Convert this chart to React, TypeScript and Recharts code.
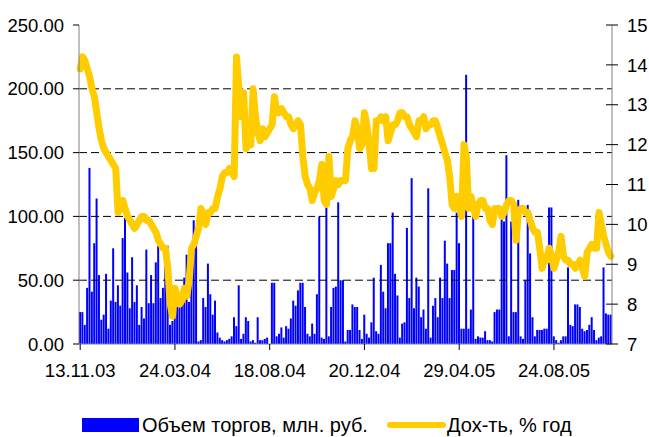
import React from "react";
import {
    ComposedChart,
    Bar,
    Line,
    XAxis,
    YAxis,
    ReferenceLine
} from "recharts";

// tick labels shown every 40 trading days
const dateLabels = ["13.11.03", "24.03.04", "18.08.04", "20.12.04", "29.04.05", "24.08.05"];

// trading volume, mln rub
const volumes = [
    25, 25, 15, 44, 138, 41, 79, 114, 54, 19,
    23, 55, 12, 34, 75, 33, 46, 30, 83, 99,
    56, 28, 68, 33, 46, 15, 29, 20, 74, 32,
    54, 32, 64, 77, 36, 44, 77, 77, 15, 18,
    33, 33, 30, 40, 52, 70, 33, 54, 97, 80,
    2, 3, 36, 29, 63, 39, 23, 34, 9, 5,
    3, 2, 3, 4, 6, 21, 14, 46, 4, 8,
    21, 18, 2, 3, 1, 21, 3, 3, 4, 5,
    0, 48, 48, 6, 8, 13, 5, 14, 12, 20,
    34, 30, 42, 48, 48, 29, 8, 6, 16, 8,
    39, 100, 5, 4, 109, 6, 29, 44, 45, 111,
    50, 50, 2, 11, 11, 31, 29, 29, 11, 4,
    23, 8, 5, 17, 52, 10, 8, 62, 41, 28,
    79, 79, 103, 55, 38, 5, 16, 17, 91, 36,
    130, 28, 52, 45, 21, 27, 12, 122, 5, 30,
    36, 21, 52, 36, 81, 63, 36, 58, 58, 103,
    79, 12, 12, 211, 12, 27, 101, 4, 6, 5,
    5, 10, 3, 3, 2, 25, 27, 27, 99, 96,
    148, 6, 96, 25, 25, 113, 6, 4, 50, 109,
    71, 21, 6, 11, 11, 11, 12, 12, 107, 107,
    6, 3, 1, 3, 6, 6, 60, 15, 14, 31,
    31, 29, 12, 10, 11, 15, 21, 11, 3, 5,
    6, 60, 24, 23, 23
];

// yield, % per year
const yields = [
    13.9, 14.2, 14.1, 13.9, 13.7, 13.4, 13.2, 12.8, 12.4, 12.1,
    11.9, 11.8, 11.7, 11.6, 11.5, 11.4, 10.3, 10.4, 10.6, 10.4,
    10.2, 10.1, 10.0, 9.9, 10.0, 10.1, 10.2, 10.2, 10.1, 10.1,
    10.0, 9.9, 9.8, 9.6, 9.5, 9.4, 9.4, 8.9, 8.0, 7.7,
    8.4, 8.2, 8.0, 8.1, 8.4, 8.2, 8.6, 9.4, 9.5, 9.7,
    9.9, 10.4, 10.2, 10.0, 10.3, 10.3, 10.4, 10.4, 10.7, 10.9,
    11.2, 11.3, 11.3, 11.4, 11.3, 11.2, 14.2, 13.4, 12.7, 13.3,
    11.9, 12.0, 12.0, 13.4, 12.7, 12.3, 12.1, 12.4, 12.2, 12.3,
    12.4, 12.5, 13.2, 12.8, 12.8, 12.9, 12.8, 12.7, 12.7, 12.5,
    12.4, 12.5, 12.6, 12.5, 11.7, 11.2, 11.0, 10.9, 10.6, 10.8,
    10.9, 11.1, 11.5, 10.6, 10.5, 11.7, 10.7, 10.9, 11.1, 11.0,
    11.1, 11.1, 11.1, 11.9, 12.1, 12.2, 12.6, 12.4, 11.9, 12.0,
    12.8, 12.5, 12.0, 11.4, 11.4, 12.6, 12.6, 12.7, 12.6, 12.7,
    12.1, 12.3, 12.5, 12.5, 12.6, 12.8, 12.8, 12.7, 12.7, 12.5,
    12.4, 12.3, 12.2, 12.6, 12.6, 12.7, 12.4, 12.5, 12.5, 12.6,
    12.6, 12.4, 12.2, 12.0, 11.8, 11.6, 11.2, 10.5, 10.4, 10.7,
    10.5, 10.2, 12.0, 11.7, 10.4, 10.7, 10.4, 10.2, 10.5, 10.6,
    10.6, 10.4, 10.4, 10.1, 10.0, 10.4, 10.4, 10.4, 10.2, 10.3,
    10.5, 10.6, 10.6, 10.5, 9.6, 10.3, 10.4, 10.4, 10.3, 10.3,
    10.1, 9.9, 9.8, 9.8, 9.4, 8.9, 9.2, 9.1, 9.4, 9.2,
    8.9, 9.1, 9.3, 9.7, 9.2, 9.1, 9.1, 9.0, 9.0, 8.9,
    9.0, 9.1, 8.9, 8.7, 9.3, 9.4, 9.5, 9.4, 9.4, 10.3,
    10.0, 9.7, 9.5, 9.3, 9.2
];

const leftTicks = [0, 50, 100, 150, 200, 250];
const rightTicks = [7, 8, 9, 10, 11, 12, 13, 14, 15];
const gridValues = [50, 100, 150, 200];
const labelStep = 40;

const data = volumes.map((v, i) => ({ i, volume: v, yieldPct: yields[i] }));

const FONT = "'Liberation Sans', Arial, sans-serif";
const AXIS_FONT = 18.5;

function XTick(props: any) {
    const { x, payload } = props;
    return (
        <text x={x} y={377} textAnchor="middle" fontSize={AXIS_FONT} fontFamily={FONT} fill="#000">
            {dateLabels[payload.value / labelStep]}
        </text>
    );
}

function RightTick(props: any) {
    const { x, y, payload } = props;
    return (
        <g>
            <line x1={x - 21} x2={x - 15} y1={y} y2={y} stroke="#000" />
            <text x={x} y={y} dy="0.36em" textAnchor="start" fontSize={AXIS_FONT} fontFamily={FONT} fill="#000">
                {payload.value}
            </text>
        </g>
    );
}

export default function App() {
    return (
        <div style={{ position: "absolute", left: 0, top: 0, width: 649, height: 437, background: "#fff" }}>
            <ComposedChart
                width={649}
                height={437}
                data={data}
                barCategoryGap={0}
                barGap={0}
                margin={{ top: 25, right: 0, bottom: 63, left: 0 }}
            >
                <XAxis
                    dataKey="i"
                    height={30}
                    interval={labelStep - 1}
                    tickSize={6}
                    axisLine={{ stroke: "#808080" }}
                    tickLine={{ stroke: "#000" }}
                    tick={<XTick />}
                />
                <YAxis
                    yAxisId="left"
                    orientation="left"
                    width={79}
                    domain={[0, 250]}
                    ticks={leftTicks}
                    interval={0}
                    tickSize={6}
                    tickMargin={9}
                    tickFormatter={(v: number) => v.toFixed(2)}
                    axisLine={{ stroke: "#808080" }}
                    tickLine={{ stroke: "#000" }}
                    tick={{ fontSize: AXIS_FONT, fontFamily: FONT, fill: "#000" }}
                />
                <YAxis
                    yAxisId="right"
                    orientation="right"
                    width={37}
                    domain={[7, 15]}
                    ticks={rightTicks}
                    interval={0}
                    tickSize={6}
                    tickMargin={9}
                    axisLine={{ stroke: "#808080" }}
                    tickLine={{ stroke: "#000" }}
                    tick={<RightTick />}
                />
                {gridValues.map((g) => (
                    <ReferenceLine key={g} yAxisId="left" y={g} stroke="#000" strokeDasharray="8 4" />
                ))}
                <Bar
                    yAxisId="left"
                    dataKey="volume"
                    fill="#0000FF"
                    isAnimationActive={false}
                />
                <Line
                    yAxisId="right"
                    type="linear"
                    dataKey="yieldPct"
                    stroke="#FFCC00"
                    strokeWidth={7}
                    strokeLinejoin="round"
                    strokeLinecap="round"
                    dot={false}
                    activeDot={false}
                    isAnimationActive={false}
                />
            </ComposedChart>
            <div style={{ position: "absolute", left: 82, top: 418, width: 57, height: 14, background: "#0000FF" }} />
            <div style={{ position: "absolute", left: 142, top: 413, fontSize: 20, lineHeight: "24px", fontFamily: FONT, whiteSpace: "nowrap" }}>
                Объем торгов, млн. руб.
            </div>
            <div style={{ position: "absolute", left: 387, top: 422, width: 59, height: 6, borderRadius: 3, background: "#FFCC00" }} />
            <div style={{ position: "absolute", left: 447, top: 413, fontSize: 20, lineHeight: "24px", fontFamily: FONT, whiteSpace: "nowrap" }}>
                Дох-ть, % год
            </div>
        </div>
    );
}
